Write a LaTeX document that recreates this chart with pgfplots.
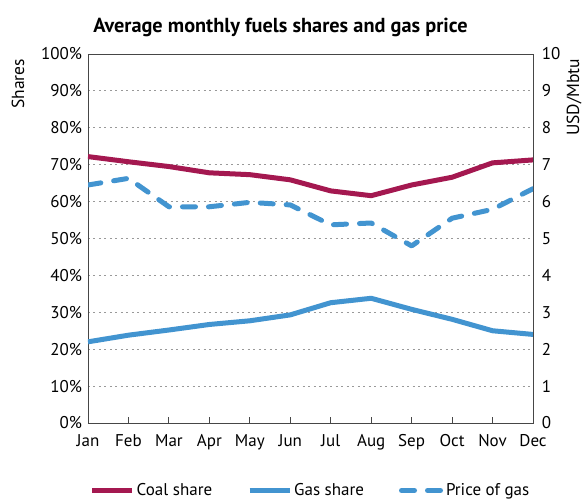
\documentclass[border=0pt]{standalone}
\usepackage{fontspec}
\setmainfont{PT Sans}
\usepackage{pgfplots}
\pgfplotsset{compat=1.18}
\definecolor{coal}{RGB}{164,24,80}
\definecolor{gasb}{RGB}{66,148,208}
\definecolor{axc}{RGB}{70,70,70}
\begin{document}
\fontsize{17}{20}\selectfont
\begin{tikzpicture}
\pgfplotsset{
  every axis/.append style={
    width=445pt, height=369pt, scale only axis,
    xmin=0, xmax=11,
    ymin=0,
    /pgf/number format/assume math mode=true,
    tick label style={font=\fontsize{17}{20}\selectfont},
    axis line style={axc, line width=0.9pt},
  }
}
\begin{axis}[
  ymax=100,
  xtick={0,...,11},
  xticklabels={Jan,Feb,Mar,Apr,May,Jun,Jul,Aug,Sep,Oct,Nov,Dec},
  xtick pos=lower,
  tick align=inside,
  major tick style={axc, line width=0.9pt},
  major tick length=6pt,
  xticklabel style={yshift=-6pt},
  ytick={0,10,...,100},
  yticklabel={\pgfmathprintnumber{\tick}\%},
  ytick style={draw=none},
  ymajorgrids,
  grid style={gray!80, line width=0.8pt, dash pattern=on 2pt off 3.5pt},
  legend style={at={(rel axis cs:0.5,0)}, anchor=north, yshift=-56pt, draw=none,
     font=\fontsize{17}{20}\selectfont, /tikz/every even column/.append style={column sep=33pt}},
  legend columns=3,
  legend image code/.code={\draw[#1] (0pt,0pt) -- (40pt,0pt);},
]
\coordinate (bl) at (rel axis cs:0,0);
\coordinate (tr) at (rel axis cs:1,1);
\coordinate (tc) at (rel axis cs:0.5,1);
\coordinate (tl) at (rel axis cs:0,1);
\addplot[coal, line width=5pt, line join=round] coordinates {
(0,72.2) (1,70.8) (2,69.5) (3,67.8) (4,67.3) (5,65.9) (6,62.9) (7,61.6) (8,64.5) (9,66.6) (10,70.5) (11,71.3)};
\addlegendentry{Coal share}
\addplot[gasb, line width=5pt, line join=round] coordinates {
(0,22.0) (1,23.8) (2,25.2) (3,26.7) (4,27.7) (5,29.3) (6,32.6) (7,33.8) (8,30.8) (9,28.1) (10,25.0) (11,24.0)};
\addlegendentry{Gas share}
\addlegendimage{gasb, line width=5pt, line cap=round, dash pattern=on 13pt off 13pt}
\addlegendentry{Price of gas}
\end{axis}
\begin{axis}[
  ymax=10,
  axis y line*=right,
  axis x line=none,
  ytick={0,...,10},
  ytick style={draw=none},
  yticklabel style={xshift=3pt},
]
\addplot[gasb, line width=5pt, line cap=round, line join=round, dash pattern=on 13pt off 13pt] coordinates {
(0,6.45) (1,6.63) (2,5.86) (3,5.86) (4,5.98) (5,5.91) (6,5.37) (7,5.42) (8,4.80) (9,5.55) (10,5.79) (11,6.35)};
\end{axis}
\node[rotate=90, anchor=east, font=\fontsize{17.5}{20}\selectfont] at ([xshift=-70pt,yshift=1pt]tl) {Shares};
\node[rotate=90, anchor=east, font=\fontsize{17.5}{20}\selectfont] at ([xshift=41pt,yshift=1pt]tr) {USD/Mbtu};
\node[font=\bfseries\fontsize{20.3}{24}\selectfont, anchor=base] at ([xshift=-30pt,yshift=21pt]tc) {Average monthly fuels shares and gas price};
\pgfresetboundingbox
\useasboundingbox ([shift={(-88pt,-78pt)}]bl) rectangle ([shift={(50pt,54pt)}]tr);
\end{tikzpicture}
\end{document}
